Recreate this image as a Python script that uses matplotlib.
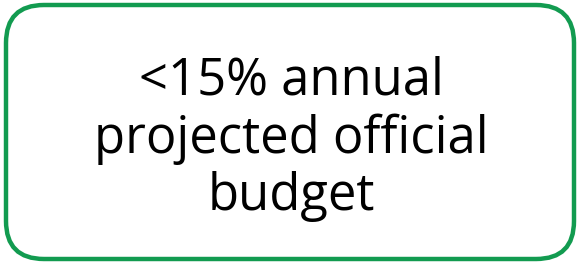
import matplotlib.pyplot as plt
from matplotlib.patches import FancyBboxPatch

# --- text content ---
lines = ["<15% annual", "projected official", "budget"]
BORDER_COLOR = "#129b50"

fig = plt.figure(figsize=(5.8, 2.64), dpi=100)
ax = fig.add_axes([0, 0, 1, 1])
ax.set_xlim(0, 580)
ax.set_ylim(264, 0)
ax.axis("off")

# rounded box
box = FancyBboxPatch((6, 5), 568, 254, boxstyle="round,pad=0,rounding_size=38",
                     linewidth=3.2, edgecolor=BORDER_COLOR, facecolor="white")
ax.add_patch(box)

ax.text(291, 139, "\n".join(lines), ha="center", va="center",
        fontsize=36.5, family="Open Sans", linespacing=1.17, color="black")

fig.savefig("out.png", dpi=100)
